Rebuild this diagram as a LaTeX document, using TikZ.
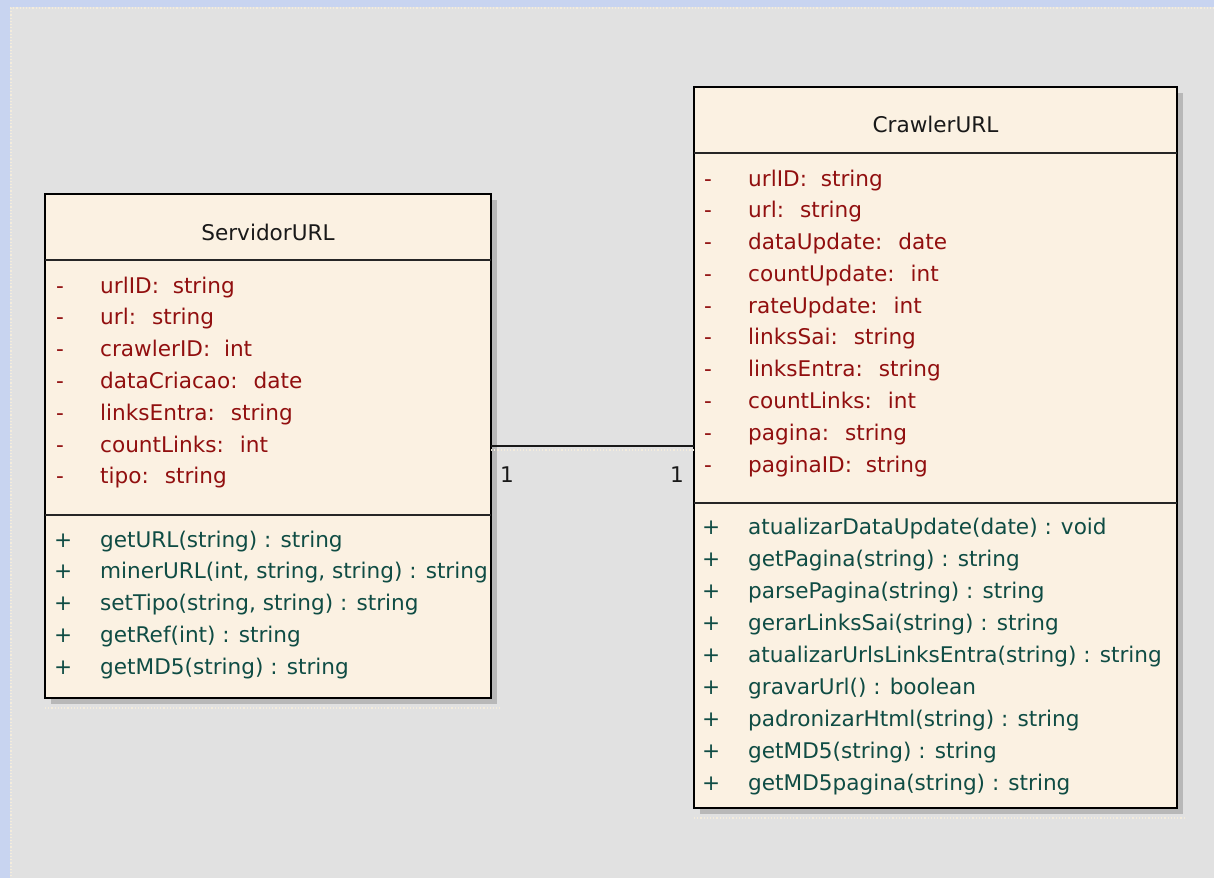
\documentclass[tikz,border=0pt]{standalone}
\usepackage{fontspec}
\setmainfont{DejaVu Sans}
\usetikzlibrary{shadows}

\definecolor{frameblue}{RGB}{200,212,240}
\definecolor{canvasgray}{RGB}{225,225,225}
\definecolor{classfill}{RGB}{251,241,226}
\definecolor{shadowgray}{RGB}{184,184,184}
\definecolor{attrred}{RGB}{145,15,15}
\definecolor{opteal}{RGB}{15,76,68}
\definecolor{gridcream}{RGB}{244,236,220}

\tikzset{
  classbox/.style={draw=black, line width=2pt, fill=classfill, anchor=north west,
    inner sep=0pt, outer sep=0pt,
    drop shadow={shadow xshift=6pt, shadow yshift=-6pt, fill=shadowgray, opacity=1}},
  sepline/.style={draw=black!85, line width=1.6pt},
  umlfont/.style={font=\fontsize{21.6}{26}\selectfont, inner sep=0pt, anchor=base west},
  classname/.style={umlfont, text=black!90, anchor=base},
  attrtext/.style={umlfont, text=attrred},
  optext/.style={umlfont, text=opteal},
  multtext/.style={umlfont, text=black!90},
  assoc/.style={draw=black!90, line width=1.8pt},
  faint/.style={draw=gridcream, line width=1.2pt, dotted}
}

\begin{document}
\begin{tikzpicture}[x=1pt, y=-1pt]
\useasboundingbox (0,0) rectangle (1214,878);

% window frame and diagram canvas
\fill[frameblue] (0,0) rectangle (1214,878);
\fill[canvasgray] (10,7) rectangle (1214,878);
\draw[faint] (10,8) -- (1214,8);
\draw[faint] (11,8) -- (11,878);

% ---------------- ServidorURL ----------------
\node[classbox, minimum width=446pt, minimum height=504pt] (srv) at (45,194) {};
\draw[sepline] (srv.west |- 0,260) -- (srv.east |- 0,260);
\draw[sepline] (srv.west |- 0,515) -- (srv.east |- 0,515);
\node[classname] (srvname) at (srv.north |- 0,240) {ServidorURL};

\foreach \t [count=\i from 0] in {
  {urlID: \ string}, {url: \ string}, {crawlerID: \ int}, {dataCriacao: \ date},
  {linksEntra: \ string}, {countLinks: \ int}, {tipo: \ string}} {
  \node[attrtext] (srvvis\i) at (56, {293+31.8*\i}) {-};
  \node[attrtext] (srvattr\i) at (100, {293+31.8*\i}) {\t};
}
\foreach \t [count=\i from 0] in {
  {getURL(string) : string}, {minerURL(int, string, string) : string},
  {setTipo(string, string) : string}, {getRef(int) : string},
  {getMD5(string) : string}} {
  \node[optext] (srvopvis\i) at (54, {547+31.9*\i}) {+};
  \node[optext] (srvop\i) at (100, {547+31.9*\i}) {\t};
}

% ---------------- CrawlerURL ----------------
\node[classbox, minimum width=483pt, minimum height=721pt] (crw) at (694,87) {};
\draw[sepline] (crw.west |- 0,153) -- (crw.east |- 0,153);
\draw[sepline] (crw.west |- 0,503) -- (crw.east |- 0,503);
\node[classname] (crwname) at (crw.north |- 0,132) {CrawlerURL};

\foreach \t [count=\i from 0] in {
  {urlID: \ string}, {url: \ string}, {dataUpdate: \ date}, {countUpdate: \ int},
  {rateUpdate: \ int}, {linksSai: \ string}, {linksEntra: \ string},
  {countLinks: \ int}, {pagina: \ string}, {paginaID: \ string}} {
  \node[attrtext] (crwvis\i) at (704, {186+31.78*\i}) {-};
  \node[attrtext] (crwattr\i) at (748, {186+31.78*\i}) {\t};
}
\foreach \t [count=\i from 0] in {
  {atualizarDataUpdate(date) : void}, {getPagina(string) : string},
  {parsePagina(string) : string}, {gerarLinksSai(string) : string},
  {atualizarUrlsLinksEntra(string) : string}, {gravarUrl() : boolean},
  {padronizarHtml(string) : string}, {getMD5(string) : string},
  {getMD5pagina(string) : string}} {
  \node[optext] (crwopvis\i) at (702, {534+32*\i}) {+};
  \node[optext] (crwop\i) at (748, {534+32*\i}) {\t};
}

% frames of the two elements
\draw[faint] (45,708) -- (500,708);
\draw[faint] (694,818) -- (1185,818);

% ---------------- association ----------------
\draw[faint] (srv.east |- 0,450) -- (crw.west |- 0,450);
\draw[assoc] (srv.east) -- (srv.east -| crw.west);
\node[multtext] (multsrv) at (500,482) {1};
\node[multtext] (multcrw) at (670,482) {1};
\end{tikzpicture}
\end{document}
